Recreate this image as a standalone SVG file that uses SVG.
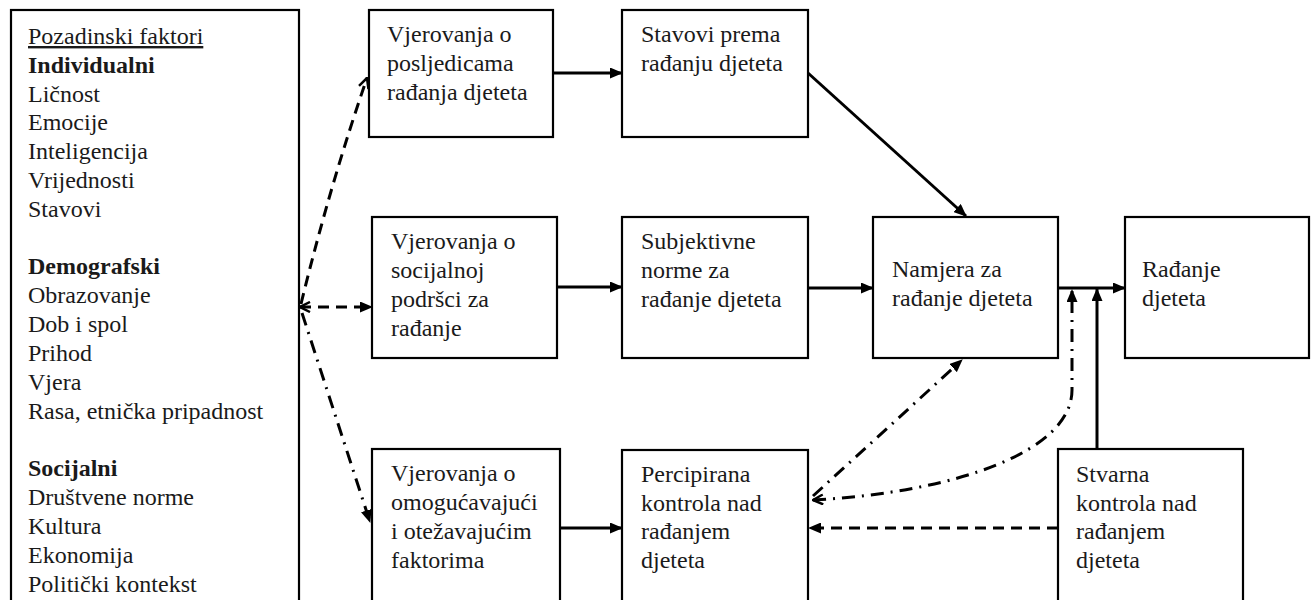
<svg xmlns="http://www.w3.org/2000/svg" width="1314" height="600" viewBox="0 0 1314 600">
<style>
.box{fill:#fff;stroke:#000;stroke-width:2.2}
text{font-family:"Liberation Serif","Times New Roman",serif;font-size:24px;fill:#1a1a1a}
.b{font-weight:bold}
.u{text-decoration:underline}
.c{fill:none;stroke:#000;stroke-width:3}
.dash{stroke-dasharray:11 7}
.dd{stroke-dasharray:13 7 2 7}
</style>
<defs>
<marker id="ah" viewBox="0 0 13 11" refX="12" refY="5.5" markerWidth="13" markerHeight="11" markerUnits="userSpaceOnUse" orient="auto"><path d="M0,0 L13,5.5 L0,11 z" fill="#000"/></marker>
<marker id="oh" viewBox="0 0 12 12" refX="11" refY="6" markerWidth="12" markerHeight="12" markerUnits="userSpaceOnUse" orient="auto-start-reverse"><path d="M1,1 L11,6 L1,11" fill="none" stroke="#000" stroke-width="2.5"/></marker>
</defs>
<rect width="1314" height="600" fill="#fff"/>
<g id="pozadinski">
<rect class="box" x="11" y="10" width="288" height="605"/>
<text x="28" y="44" class="u">Pozadinski faktori</text>
<text x="28" y="73" class="b">Individualni</text>
<text x="28" y="102">Ličnost</text>
<text x="28" y="130">Emocije</text>
<text x="28" y="159">Inteligencija</text>
<text x="28" y="188">Vrijednosti</text>
<text x="28" y="217">Stavovi</text>
<text x="28" y="274" class="b">Demografski</text>
<text x="28" y="303">Obrazovanje</text>
<text x="28" y="332">Dob i spol</text>
<text x="28" y="361">Prihod</text>
<text x="28" y="390">Vjera</text>
<text x="28" y="419">Rasa, etnička pripadnost</text>
<text x="28" y="476" class="b">Socijalni</text>
<text x="28" y="505">Društvene norme</text>
<text x="28" y="534">Kultura</text>
<text x="28" y="563">Ekonomija</text>
<text x="28" y="592">Politički kontekst</text>
</g>
<g id="vjerovanja-posljedice">
<rect class="box" x="369" y="10" width="184" height="127"/>
<text x="387" y="42">Vjerovanja o</text>
<text x="387" y="71">posljedicama</text>
<text x="387" y="100">rađanja djeteta</text>
</g>
<g id="stavovi">
<rect class="box" x="622" y="10" width="186" height="127"/>
<text x="641" y="42">Stavovi prema</text>
<text x="641" y="71">rađanju djeteta</text>
</g>
<g id="vjerovanja-socijalna">
<rect class="box" x="372" y="217" width="185" height="141"/>
<text x="391" y="249">Vjerovanja o</text>
<text x="391" y="278">socijalnoj</text>
<text x="391" y="307">podršci za</text>
<text x="391" y="336">rađanje</text>
</g>
<g id="subjektivne-norme">
<rect class="box" x="622" y="217" width="186" height="141"/>
<text x="641" y="249">Subjektivne</text>
<text x="641" y="278">norme za</text>
<text x="641" y="307">rađanje djeteta</text>
</g>
<g id="namjera">
<rect class="box" x="873" y="217" width="185" height="141"/>
<text x="892" y="277">Namjera za</text>
<text x="892" y="306">rađanje djeteta</text>
</g>
<g id="radanje">
<rect class="box" x="1125" y="217" width="184" height="141"/>
<text x="1142" y="277">Rađanje</text>
<text x="1142" y="306">djeteta</text>
</g>
<g id="vjerovanja-faktori">
<rect class="box" x="372" y="449" width="188" height="166"/>
<text x="391" y="481">Vjerovanja o</text>
<text x="391" y="510">omogućavajući</text>
<text x="391" y="539">i otežavajućim</text>
<text x="391" y="568">faktorima</text>
</g>
<g id="percipirana-kontrola">
<rect class="box" x="622" y="450" width="186" height="165"/>
<text x="641" y="482">Percipirana</text>
<text x="641" y="511">kontrola nad</text>
<text x="641" y="539">rađanjem</text>
<text x="641" y="568">djeteta</text>
</g>
<g id="stvarna-kontrola">
<rect class="box" x="1058" y="449" width="185" height="166"/>
<text x="1076" y="482">Stvarna</text>
<text x="1076" y="511">kontrola nad</text>
<text x="1076" y="539">rađanjem</text>
<text x="1076" y="568">djeteta</text>
</g>
<g id="connectors">
<path class="c" d="M553 73 L622 73" marker-end="url(#ah)"/>
<path class="c" d="M557 287 L622 287" marker-end="url(#ah)"/>
<path class="c" d="M808 288 L873 288" marker-end="url(#ah)"/>
<path class="c" d="M1058 288 L1125 288" marker-end="url(#ah)"/>
<path class="c" d="M808 73 L966 216" marker-end="url(#ah)"/>
<path class="c" d="M560 528 L622 528" marker-end="url(#ah)"/>
<path class="c" d="M1097 449 L1097 289" marker-end="url(#ah)"/>
<path class="c dash" d="M1058 528 L809 528" marker-end="url(#ah)"/>
<path class="c dd" d="M813 496 L962 360" marker-end="url(#ah)"/>
<path class="c dd" d="M813 500 C960 492 1072 450 1072 390 L1072 290" marker-start="url(#oh)" marker-end="url(#ah)"/>
<path class="c dash" d="M301 304 Q330 185 367 78" marker-end="url(#oh)"/>
<path class="c dash" d="M300 307 L372 307" marker-start="url(#oh)" marker-end="url(#ah)"/>
<path class="c dd" d="M302 313 L370 522" marker-end="url(#ah)"/>
</g>
</svg>
